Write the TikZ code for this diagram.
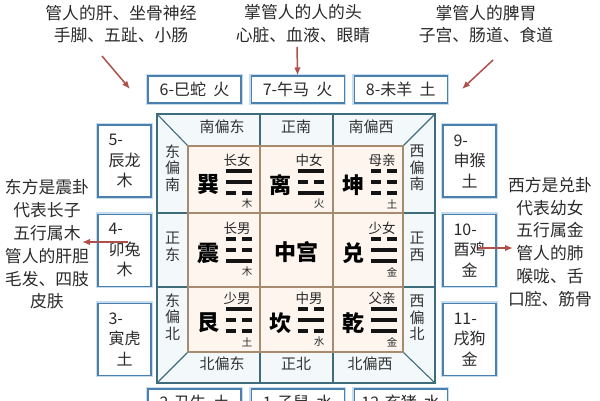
\documentclass[tikz,border=0pt]{standalone}
\usepackage{fontspec}
\newfontfamily\cjkfont{Noto Sans CJK SC}
\usetikzlibrary{positioning}
\usetikzlibrary{arrows.meta}

\definecolor{notetext}{HTML}{2A2A2A}
\definecolor{boxline}{HTML}{4A7FAE}
\definecolor{boxglow}{HTML}{C6DDEF}
\definecolor{ringline}{HTML}{3E6C7C}
\definecolor{ringfill}{HTML}{F3F8FB}
\definecolor{gridline}{HTML}{A88A6E}
\definecolor{gridfill}{HTML}{FDF5EE}
\definecolor{arrowred}{HTML}{B0504A}
\definecolor{dirgray}{HTML}{333333}

\begin{document}
\begin{tikzpicture}[x=1pt,y=-1pt,>={Latex[length=8pt,width=6.5pt]},
    note/.style={font=\cjkfont\fontsize{16.8}{22.8}\selectfont, text=notetext, align=center, inner sep=0pt},
    branch/.style={draw=boxline, line width=1.1pt, fill=white, preaction={draw=boxglow, line width=4.5pt},
        font=\cjkfont\fontsize{16}{20.5}\selectfont, text=notetext, inner sep=0pt},
    topbox/.style={branch, minimum width=93pt, minimum height=27pt},
    sidebox/.style={branch, minimum width=53pt, minimum height=72pt, align=left},
    pointer/.style={->, draw=arrowred, fill=arrowred, line width=1.5pt},
    ringbox/.style={draw=ringline, fill=ringfill, line width=1.1pt, inner sep=0pt, minimum width=278pt, minimum height=269pt},
    palacebox/.style={draw=gridline, fill=gridfill, line width=1.1pt, inner sep=0pt, minimum width=215pt, minimum height=206pt},
    ringrule/.style={draw=ringline, line width=1.1pt},
    gridrule/.style={draw=gridline, line width=1.1pt},
    dirtext/.style={font=\cjkfont\fontsize{15}{16.5}\selectfont, text=dirgray, align=center, inner sep=0pt},
    gua/.style={font=\cjkfont\bfseries\fontsize{22}{26}\selectfont, text=black, inner sep=0pt},
    kin/.style={font=\cjkfont\fontsize{13.5}{15}\selectfont, text=notetext, inner sep=0pt},
    wuxing/.style={font=\cjkfont\fontsize{10.5}{12}\selectfont, text=notetext, inner sep=0pt},
    yao/.style={draw=black!92, line width=3.6pt}]
    \useasboundingbox (0,0) rectangle (600,400);

    %% Nodes
    % Notes
    \begin{scope}
        \node (note_liver) at (121,24) [note] {管人的肝、坐骨神经\\手脚、五趾、小肠};
        \node (note_heart) at (303,24) [note] {掌管人的人的头\\心脏、血液、眼睛};
        \node (note_spleen) at (486,24) [note] {掌管人的脾胃\\子宫、肠道、食道};
        \node (note_east) at (47,244.5) [note] {东方是震卦\\代表长子\\五行属木\\管人的肝胆\\毛发、四肢\\皮肤};
        \node (note_west) at (550,242) [note] {西方是兑卦\\代表幼女\\五行属金\\管人的肺\\喉咙、舌\\口腔、筋骨};
    \end{scope}

    % Branches
    \begin{scope}
        \node (b6) at (194.5,89.5) [topbox] {6-巳蛇\hspace{0.45em}火};
        \node (b7) [topbox, right = 9pt of b6] {7-午马\hspace{0.45em}火};
        \node (b8) [topbox, right = 9pt of b7] {8-未羊\hspace{0.45em}土};

        \node (b5) at (124.5,161) [sidebox] {5-\\辰龙\\\makebox[2em]{木}};
        \node (b4) [sidebox, below = 16pt of b5] {4-\\卯兔\\\makebox[2em]{木}};
        \node (b3) [sidebox, below = 16pt of b4] {3-\\寅虎\\\makebox[2em]{土}};

        \node (b9) at (469.5,161) [sidebox] {9-\\申猴\\\makebox[2em]{土}};
        \node (b10) [sidebox, below = 16pt of b9] {10-\\酉鸡\\\makebox[2em]{金}};
        \node (b11) [sidebox, below = 16pt of b10] {11-\\戌狗\\\makebox[2em]{金}};

        \node (b2) at (194.5,402.5) [topbox] {2-丑牛\hspace{0.45em}土};
        \node (b1) [topbox, right = 9pt of b2] {1-子鼠\hspace{0.45em}水};
        \node (b12) [topbox, right = 9pt of b1] {12-亥猪\hspace{0.45em}水};
    \end{scope}

    % Frame
    \begin{scope}
        \node (ring) at (296,248.5) [ringbox] {};
        \node (palace) at (295.5,249) [palacebox] {};
        \coordinate (colA) at (260,146);
        \coordinate (colB) at (333,146);
        \coordinate (rowA) at (188,213);
        \coordinate (rowB) at (188,287);
    \end{scope}

    \draw[ringrule] (ring.north west) -- (palace.north west);
    \draw[ringrule] (ring.north east) -- (palace.north east);
    \draw[ringrule] (ring.south west) -- (palace.south west);
    \draw[ringrule] (ring.south east) -- (palace.south east);
    \foreach \c in {colA,colB} {
        \draw[ringrule] (\c |- ring.north) -- (\c |- palace.north);
        \draw[ringrule] (\c |- palace.south) -- (\c |- ring.south);
        \draw[gridrule] (\c |- palace.north) -- (\c |- palace.south);
    }
    \foreach \r in {rowA,rowB} {
        \draw[ringrule] (\r -| ring.west) -- (\r -| palace.west);
        \draw[ringrule] (\r -| palace.east) -- (\r -| ring.east);
        \draw[gridrule] (\r -| palace.west) -- (\r -| palace.east);
    }
    \node (palace_line) at (palace) [palacebox, fill=none] {};

    % Directions
    \begin{scope}
        \node (d_sse) at (222,127) [dirtext] {南偏东};
        \node (d_s) at (296,127) [dirtext] {正南};
        \node (d_ssw) at (371,127) [dirtext] {南偏西};
        \node (d_nne) at (222,364) [dirtext] {北偏东};
        \node (d_n) at (296,364) [dirtext] {正北};
        \node (d_nnw) at (370,364) [dirtext] {北偏西};
        \node (d_ese) at (172.5,168) [dirtext] {东\\偏\\南};
        \node (d_e) at (172.5,247) [dirtext] {正\\东};
        \node (d_ene) at (172.5,317) [dirtext] {东\\偏\\北};
        \node (d_wsw) at (417,168) [dirtext] {西\\偏\\南};
        \node (d_w) at (417,247) [dirtext] {正\\西};
        \node (d_wnw) at (417,318) [dirtext] {西\\偏\\北};
    \end{scope}

    % Trigrams
    \node (center) at (296.5,252) [gua] {中宫};
    \foreach \nm/\cx/\cy/\g/\k/\ya/\yb/\yc/\w in {
        xun/188/182/巽/长女/1/1/0/木,
        li/260/182/离/中女/1/0/1/火,
        kun/333/182/坤/母亲/0/0/0/土,
        zhen/188/250/震/长男/0/0/1/木,
        dui/333/250/兑/少女/0/1/1/金,
        gen/188/320/艮/少男/1/0/0/土,
        kan/260/320/坎/中男/0/1/0/水,
        qian/333/320/乾/父亲/1/1/1/金} {
        \node (\nm) at (\cx+20,\cy+3) [gua] {\g};
        \node (\nm_kin) at (\cx+49,\cy-22) [kin] {\k};
        \node (\nm_wx) at (\cx+59,\cy+22) [wuxing] {\w};
        \foreach \bit [count=\i] in {\ya,\yb,\yc} {
            \pgfmathsetmacro{\yy}{\cy+11*(\i-2)}
            \ifnum\bit=1
                \draw[yao] (\cx+38,\yy) -- (\cx+64,\yy);
            \else
                \draw[yao] (\cx+38,\yy) -- (\cx+48,\yy) (\cx+54,\yy) -- (\cx+64,\yy);
            \fi
        }
    }

    %% Edges
    \coordinate (p_liver) at (102,56);
    \coordinate (p_liver_end) at (130,89);
    \coordinate (p_heart) at (297,47);
    \coordinate (p_spleen) at (493,60);
    \coordinate (p_spleen_end) at (462,89);
    \coordinate (p_east) at (128,242);
    \coordinate (p_east_end) at (82,242);
    \coordinate (p_west) at (478,248);
    \coordinate (p_west_end) at (513,248);

    \draw[pointer] (p_liver) -- (p_liver_end);
    \draw[pointer] (p_heart) -- (b7.north);
    \draw[pointer] (p_spleen) -- (p_spleen_end);
    \draw[pointer] (p_east) -- (p_east_end);
    \draw[pointer] (p_west) -- (p_west_end);
\end{tikzpicture}
\end{document}
